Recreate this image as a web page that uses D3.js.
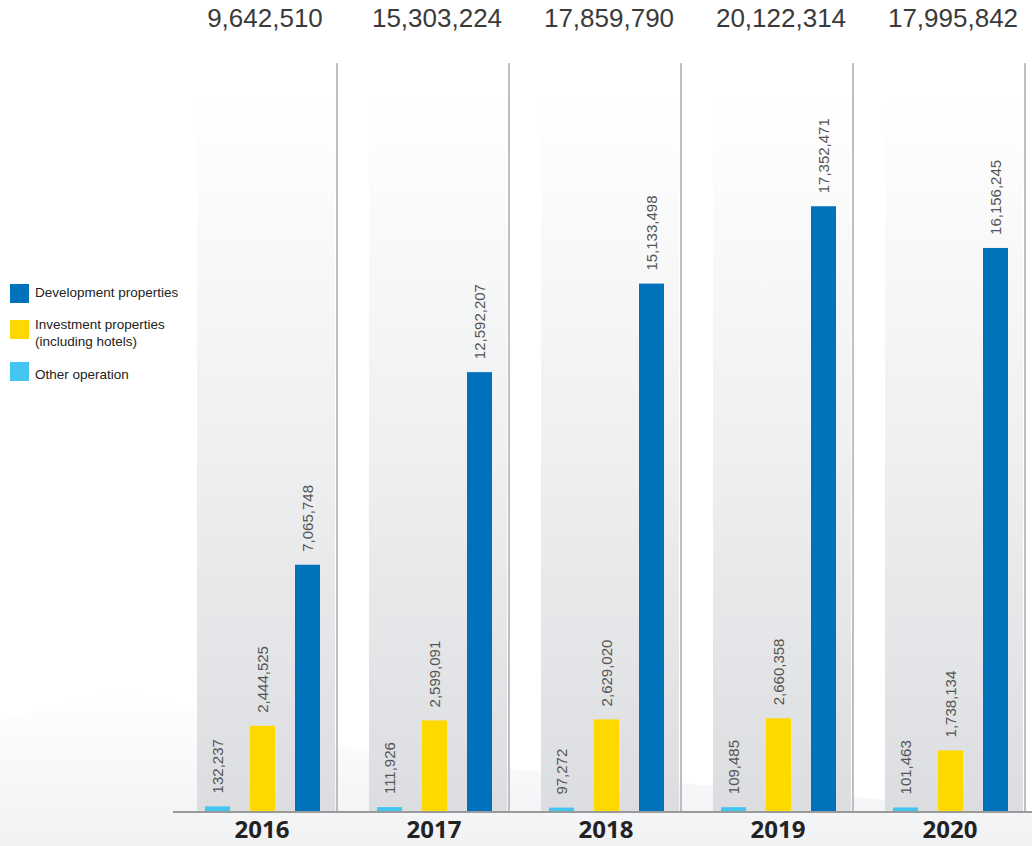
<!DOCTYPE html>
<html>
<head>
<meta charset="utf-8">
<script src="https://cdn.jsdelivr.net/npm/d3@7"></script>
<style>
  body { margin: 0; background: #fff; }
  svg { display: block; }
</style>
</head>
<body>
<svg id="drawing_region"></svg>
<script>
const years = ['2016', '2017', '2018', '2019', '2020'];
const totals = [9642510, 15303224, 17859790, 20122314, 17995842];
const other = [132237, 111926, 97272, 109485, 101463];
const investment = [2444525, 2599091, 2629020, 2660358, 1738134];
const development = [7065748, 12592207, 15133498, 17352471, 16156245];

const seriesKeys = ['other', 'investment', 'development'];
const seriesColors = ['#44c5f1', '#fdd900', '#0071bb'];
const legendLabels = [['Development properties'], ['Investment properties', '(including hotels)'], ['Other operation']];
const legendColors = ['#0071bb', '#fdd900', '#44c5f1'];

const data = years.map((y, i) => ({
    year: y, total: totals[i],
    other: other[i], investment: investment[i], development: development[i]
}));

const width = 1032, height = 846;
const baseY = 811;
const fmt = d3.format(',');

const svg = d3.select('#drawing_region')
    .attr('width', width)
    .attr('height', height);

const defs = svg.append('defs');
const grad = defs.append('linearGradient')
    .attr('id', 'colgrad')
    .attr('x1', 0).attr('y1', 0).attr('x2', 0).attr('y2', 1);
grad.append('stop').attr('offset', '0%').attr('stop-color', '#ffffff');
grad.append('stop').attr('offset', '45%').attr('stop-color', '#f0f1f2');
grad.append('stop').attr('offset', '100%').attr('stop-color', '#dcdde0');

const floorGrad = defs.append('linearGradient')
    .attr('id', 'floorgrad')
    .attr('x1', 0).attr('y1', 0).attr('x2', 0).attr('y2', 1);
floorGrad.append('stop').attr('offset', '0%').attr('stop-color', '#ffffff');
floorGrad.append('stop').attr('offset', '100%').attr('stop-color', '#f1f2f4');

// faint backdrop at the bottom
svg.append('path')
    .attr('d', 'M0,720 L120,690 L400,760 L1032,812 L1032,846 L0,846 Z')
    .attr('fill', 'url(#floorgrad)');

const x0 = d3.scaleBand()
    .domain(years)
    .range([197, 197 + 172 * years.length]);

const x1 = d3.scaleBand()
    .domain(seriesKeys)
    .range([8, 143]);

const barW = 25;

const y = d3.scaleLinear()
    .domain([0, 20000000])
    .range([baseY, 114]);

// column backgrounds
svg.append('g').selectAll('rect')
    .data(data)
    .enter()
    .append('rect')
    .attr('x', d => x0(d.year))
    .attr('y', 100)
    .attr('width', 138)
    .attr('height', baseY - 100)
    .attr('fill', 'url(#colgrad)');

// separators
const sepX = years.slice(1).map(yr => x0(yr) - 32).concat([x0(years[years.length - 1]) + 172 - 32]);
svg.append('g').selectAll('line')
    .data(sepX)
    .enter()
    .append('line')
    .attr('x1', d => d).attr('x2', d => d)
    .attr('y1', 63).attr('y2', baseY)
    .attr('stroke', '#aaaaaa')
    .attr('stroke-width', 1.5);

// bars
const groups = svg.append('g').selectAll('g')
    .data(data)
    .enter()
    .append('g')
    .attr('transform', d => `translate(${x0(d.year)},0)`);

groups.selectAll('rect')
    .data(d => seriesKeys.map((k, i) => ({ key: k, value: d[k], color: seriesColors[i] })))
    .enter()
    .append('rect')
    .attr('x', d => x1(d.key))
    .attr('y', d => y(d.value))
    .attr('width', barW)
    .attr('height', d => baseY - y(d.value))
    .attr('fill', d => d.color);

groups.selectAll('text.val')
    .data(d => seriesKeys.map(k => ({ key: k, value: d[k] })))
    .enter()
    .append('text')
    .attr('class', 'val')
    .attr('transform', d => `translate(${x1(d.key) + barW / 2 + 5},${y(d.value) - 13}) rotate(-90)`)
    .style('font-family', '"Liberation Sans", Arial, sans-serif')
    .style('font-size', '15px')
    .attr('fill', '#555555')
    .text(d => fmt(d.value));

// totals at top
svg.append('g').selectAll('text')
    .data(data)
    .enter()
    .append('text')
    .attr('x', d => x0(d.year) + 68)
    .attr('y', 27)
    .attr('text-anchor', 'middle')
    .style('font-family', '"Liberation Sans", Arial, sans-serif')
    .style('font-size', '26px')
    .attr('fill', '#3a3a3a')
    .text(d => fmt(d.total));

// baseline
svg.append('line')
    .attr('x1', 173).attr('x2', width)
    .attr('y1', baseY + 1).attr('y2', baseY + 1)
    .attr('stroke', '#9a9a9a')
    .attr('stroke-width', 2);

// year labels
const xaxis = d3.axisBottom(x0).tickSize(0).tickPadding(0);
const xg = svg.append('g')
    .attr('transform', `translate(-3,${baseY})`)
    .call(xaxis);
xg.select('.domain').remove();
xg.selectAll('text')
    .attr('dy', null)
    .attr('x', -18)
    .attr('y', 27)
    .style('font-family', '"Open Sans", sans-serif')
    .style('font-weight', 'bold')
    .style('font-size', '24px')
    .attr('fill', '#222222');

// legend
const legend = svg.append('g');
const legendY = [284, 320, 362];
const legendTextY = [297, 329, 379];
legendLabels.forEach((lines, i) => {
    legend.append('rect')
        .attr('x', 10).attr('y', legendY[i])
        .attr('width', 19).attr('height', 19)
        .attr('fill', legendColors[i]);
    const t = legend.append('text')
        .attr('x', 35)
        .attr('y', legendTextY[i])
        .style('font-family', '"Liberation Sans", Arial, sans-serif')
        .style('font-size', '13.5px')
        .attr('fill', '#222222');
    lines.forEach((ln, j) => {
        t.append('tspan').attr('x', 35).attr('dy', j === 0 ? 0 : 17).text(ln);
    });
});
</script>
</body>
</html>
